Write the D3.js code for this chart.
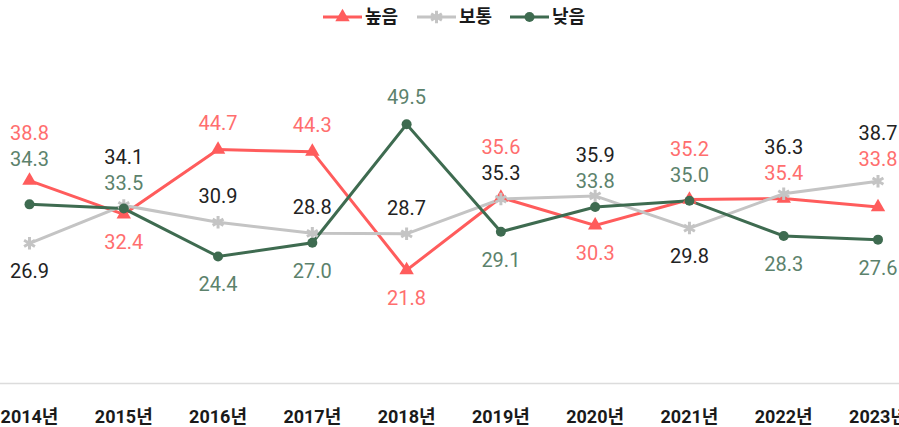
<!DOCTYPE html>
<html>
<head>
<meta charset="utf-8">
<script src="https://cdn.jsdelivr.net/npm/d3@7"></script>
<style>
  body { margin: 0; background: #fff; }
  svg { display: block; font-family: Roboto, "Noto Sans CJK KR", sans-serif; }
</style>
</head>
<body>
<div id="chart"></div>
<script>
// categories and series
const years = ["2014년", "2015년", "2016년", "2017년", "2018년", "2019년", "2020년", "2021년", "2022년", "2023년"];
const high = [38.8, 32.4, 44.7, 44.3, 21.8, 35.6, 30.3, 35.2, 35.4, 33.8];
const mid = [26.9, 34.1, 30.9, 28.8, 28.7, 35.3, 35.9, 29.8, 36.3, 38.7];
const low = [34.3, 33.5, 24.4, 27.0, 49.5, 29.1, 33.8, 35.0, 28.3, 27.6];
const seriesNames = ["높음", "보통", "낮음"];

const width = 899, height = 427;

const series = [
  { name: seriesNames[0], values: high, color: "#ff5c5c", label: "#ff6e6e", marker: "triangle" },
  { name: seriesNames[1], values: mid, color: "#c4c4c4", label: "#222222", marker: "star" },
  { name: seriesNames[2], values: low, color: "#3e6b50", label: "#5c826c", marker: "circle" }
];

const svg = d3.select("#chart").append("svg")
  .attr("width", width)
  .attr("height", height);

const x = d3.scalePoint().domain(years).range([29.5, 878]);
const y = d3.scaleLinear().domain([0, 60]).range([385, 69]);

// bottom axis line
svg.append("line")
  .attr("x1", 0).attr("x2", width)
  .attr("y1", 383.5).attr("y2", 383.5)
  .attr("stroke", "#dcdcdc")
  .attr("stroke-width", 1.5);

// x labels (the last one runs off the right edge, as in the original)
svg.selectAll(".xlab")
  .data(years)
  .join("text")
  .attr("class", "xlab")
  .attr("x", d => x(d))
  .attr("y", 423)
  .attr("text-anchor", "middle")
  .style("font-size", "18px")
  .style("font-weight", "bold")
  .attr("fill", "#1a1a1a")
  .text(d => d);

function drawMarker(g, type, color) {
  if (type === "triangle") {
    g.append("path").attr("d", d3.symbol(d3.symbolTriangle, 90)()).attr("fill", color);
  } else if (type === "circle") {
    g.append("circle").attr("r", 5).attr("fill", color);
  } else {
    g.append("path").attr("d", d3.symbol(d3.symbolAsterisk, 110)())
      .attr("stroke", color).attr("stroke-width", 3).attr("fill", "none");
  }
}

const line = d3.line()
  .x((d, i) => x(years[i]))
  .y(d => y(d));

series.forEach(s => {
  svg.append("path")
    .datum(s.values)
    .attr("d", line)
    .attr("fill", "none")
    .attr("stroke", s.color)
    .attr("stroke-width", 3);
});

series.forEach(s => {
  s.values.forEach((v, i) => {
    const g = svg.append("g").attr("transform", `translate(${x(years[i])},${y(v)})`);
    drawMarker(g, s.marker, s.color);
  });
});

// data labels: lowest below, the other two above, nudged to avoid markers
const labels = [];
years.forEach((yr, i) => {
  const items = series.map(s => ({ s, v: s.values[i], py: y(s.values[i]) }));
  items.sort((a, b) => b.v - a.v);
  const [top, middle, bottom] = items;
  bottom.ly = bottom.py + 28;
  let m = middle.py - 26;
  items.forEach(o => {
    if (o !== middle && o.py > m - 11 && o.py < m + 11) m = o.py - 22;
  });
  middle.ly = m;
  top.ly = Math.min(top.py - 27, m - 26);
  items.forEach(o => labels.push({ x: x(yr), y: o.ly, text: o.v.toFixed(1), color: o.s.label }));
});

svg.selectAll(".dlab")
  .data(labels)
  .join("text")
  .attr("class", "dlab")
  .attr("x", d => d.x)
  .attr("y", d => d.y)
  .attr("dy", "0.35em")
  .attr("text-anchor", "middle")
  .style("font-size", "20px")
  .attr("fill", d => d.color)
  .text(d => d.text);

// legend
const legendX = [323, 417, 510];
const legend = svg.selectAll(".leg")
  .data(series)
  .join("g")
  .attr("class", "leg")
  .attr("transform", (d, i) => `translate(${legendX[i]},17)`);

legend.append("line")
  .attr("x1", 0).attr("x2", 39)
  .attr("stroke", d => d.color)
  .attr("stroke-width", 3);

legend.each(function(d) {
  const g = d3.select(this).append("g").attr("transform", "translate(19.5,0)");
  drawMarker(g, d.marker, d.color);
});

legend.append("text")
  .attr("x", 42)
  .attr("dy", "0.35em")
  .style("font-size", "18px")
  .style("font-weight", "bold")
  .attr("fill", "#1a1a1a")
  .text(d => d.name);
</script>
</body>
</html>
